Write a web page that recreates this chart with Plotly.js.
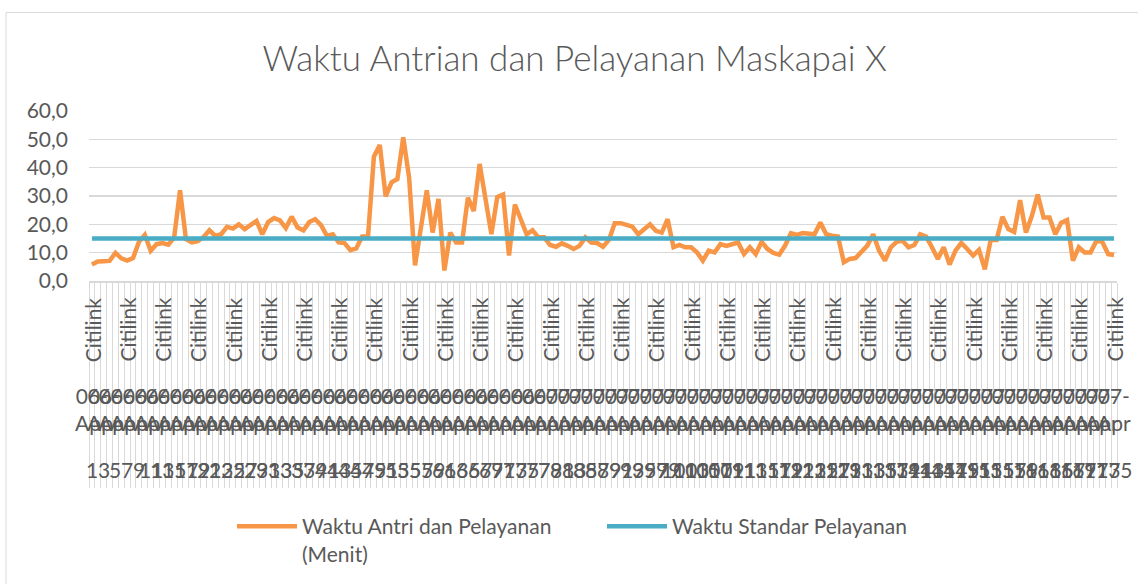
<!DOCTYPE html>
<html>
<head>
<meta charset="utf-8">
<script src="https://cdn.plot.ly/plotly-3.0.1.min.js"></script>
<style>html,body{margin:0;padding:0;background:#fff}#chart{width:1138px;height:584px}</style>
</head>
<body>
<div id="chart"></div>
<script>
// ---- data ----
const nomor = [1,2,3,4,5,6,7,8,9,10,11,12,13,14,15,16,17,18,19,20,21,22,23,24,25,26,27,28,29,30,31,32,33,34,35,36,37,38,39,40,41,42,43,44,45,46,47,48,49,50,51,52,53,54,55,56,57,58,59,60,61,62,63,64,65,66,67,68,69,70,71,72,73,74,75,76,77,78,79,80,81,82,83,84,85,86,87,88,89,90,91,92,93,94,95,96,97,98,99,100,101,102,103,104,105,106,107,108,109,110,111,112,113,114,115,116,117,118,119,120,121,122,123,124,125,126,127,128,129,130,131,132,133,134,135,136,137,138,139,140,141,142,143,144,145,146,147,148,149,150,151,152,153,154,155,156,157,158,159,160,161,162,163,164,165,166,167,168,169,170,171,172,173,174,175];

const tanggal = [
'06-Apr','06-Apr','06-Apr','06-Apr','06-Apr','06-Apr','06-Apr','06-Apr','06-Apr','06-Apr',
'06-Apr','06-Apr','06-Apr','06-Apr','06-Apr','06-Apr','06-Apr','06-Apr','06-Apr','06-Apr',
'06-Apr','06-Apr','06-Apr','06-Apr','06-Apr','06-Apr','06-Apr','06-Apr','06-Apr','06-Apr',
'06-Apr','06-Apr','06-Apr','06-Apr','06-Apr','06-Apr','06-Apr','06-Apr','06-Apr','06-Apr',
'06-Apr','06-Apr','06-Apr','06-Apr','06-Apr','06-Apr','06-Apr','06-Apr','06-Apr','06-Apr',
'06-Apr','06-Apr','06-Apr','06-Apr','06-Apr','06-Apr','06-Apr','06-Apr','06-Apr','06-Apr',
'06-Apr','06-Apr','06-Apr','06-Apr','06-Apr','06-Apr','06-Apr','06-Apr','06-Apr','06-Apr',
'06-Apr','06-Apr','06-Apr','06-Apr','06-Apr','06-Apr','06-Apr','06-Apr',
'07-Apr','07-Apr','07-Apr','07-Apr','07-Apr','07-Apr','07-Apr','07-Apr','07-Apr','07-Apr',
'07-Apr','07-Apr','07-Apr','07-Apr','07-Apr','07-Apr','07-Apr','07-Apr','07-Apr','07-Apr',
'07-Apr','07-Apr','07-Apr','07-Apr','07-Apr','07-Apr','07-Apr','07-Apr','07-Apr','07-Apr',
'07-Apr','07-Apr','07-Apr','07-Apr','07-Apr','07-Apr','07-Apr','07-Apr','07-Apr','07-Apr',
'07-Apr','07-Apr','07-Apr','07-Apr','07-Apr','07-Apr','07-Apr','07-Apr','07-Apr','07-Apr',
'07-Apr','07-Apr','07-Apr','07-Apr','07-Apr','07-Apr','07-Apr','07-Apr','07-Apr','07-Apr',
'07-Apr','07-Apr','07-Apr','07-Apr','07-Apr','07-Apr','07-Apr','07-Apr','07-Apr','07-Apr',
'07-Apr','07-Apr','07-Apr','07-Apr','07-Apr','07-Apr','07-Apr','07-Apr','07-Apr','07-Apr',
'07-Apr','07-Apr','07-Apr','07-Apr','07-Apr','07-Apr','07-Apr','07-Apr','07-Apr','07-Apr',
'07-Apr','07-Apr','07-Apr','07-Apr','07-Apr','07-Apr','07-Apr'];

const maskapai = [
'Citilink','Citilink','Citilink','Citilink','Citilink','Citilink','Citilink','Citilink','Citilink','Citilink',
'Citilink','Citilink','Citilink','Citilink','Citilink','Citilink','Citilink','Citilink','Citilink','Citilink',
'Citilink','Citilink','Citilink','Citilink','Citilink','Citilink','Citilink','Citilink','Citilink','Citilink',
'Citilink','Citilink','Citilink','Citilink','Citilink','Citilink','Citilink','Citilink','Citilink','Citilink',
'Citilink','Citilink','Citilink','Citilink','Citilink','Citilink','Citilink','Citilink','Citilink','Citilink',
'Citilink','Citilink','Citilink','Citilink','Citilink','Citilink','Citilink','Citilink','Citilink','Citilink',
'Citilink','Citilink','Citilink','Citilink','Citilink','Citilink','Citilink','Citilink','Citilink','Citilink',
'Citilink','Citilink','Citilink','Citilink','Citilink','Citilink','Citilink','Citilink','Citilink','Citilink',
'Citilink','Citilink','Citilink','Citilink','Citilink','Citilink','Citilink','Citilink','Citilink','Citilink',
'Citilink','Citilink','Citilink','Citilink','Citilink','Citilink','Citilink','Citilink','Citilink','Citilink',
'Citilink','Citilink','Citilink','Citilink','Citilink','Citilink','Citilink','Citilink','Citilink','Citilink',
'Citilink','Citilink','Citilink','Citilink','Citilink','Citilink','Citilink','Citilink','Citilink','Citilink',
'Citilink','Citilink','Citilink','Citilink','Citilink','Citilink','Citilink','Citilink','Citilink','Citilink',
'Citilink','Citilink','Citilink','Citilink','Citilink','Citilink','Citilink','Citilink','Citilink','Citilink',
'Citilink','Citilink','Citilink','Citilink','Citilink','Citilink','Citilink','Citilink','Citilink','Citilink',
'Citilink','Citilink','Citilink','Citilink','Citilink','Citilink','Citilink','Citilink','Citilink','Citilink',
'Citilink','Citilink','Citilink','Citilink','Citilink','Citilink','Citilink','Citilink','Citilink','Citilink',
'Citilink','Citilink','Citilink','Citilink','Citilink'];

const waktuAntri = [
5.8,6.9,7.0,7.1,9.9,8.0,7.2,8.1,13.8,16.3,
10.7,13.0,13.4,12.8,15.4,32.0,14.8,13.6,14.1,15.5,
17.9,15.9,16.5,19.1,18.5,20.0,18.3,19.9,21.2,16.5,
20.8,22.2,21.4,18.7,22.7,18.9,17.9,20.8,21.8,19.7,
15.9,16.5,13.6,13.4,10.9,11.5,15.7,15.7,43.9,48.0,
29.9,34.8,36.0,50.7,36.4,5.5,17.7,32.0,17.1,29.0,
3.7,17.1,13.6,13.6,29.4,24.7,41.3,29.9,16.5,29.6,
30.5,9.0,27.0,21.8,16.5,17.9,15.4,15.4,12.7,12.1,
13.3,12.4,11.3,12.4,15.4,13.6,13.4,12.1,14.5,20.4,
20.4,19.8,19.2,16.5,18.3,20.0,17.7,17.1,21.8,11.9,
12.7,11.9,11.9,10.1,7.2,10.7,10.1,13.0,12.4,13.0,
13.6,9.5,11.9,9.5,13.8,11.3,9.9,9.3,12.5,16.9,
16.3,16.9,16.6,16.5,20.6,16.5,16.0,15.7,6.6,7.8,
8.1,10.1,12.5,16.5,10.7,7.2,11.9,13.8,14.2,11.9,
12.7,16.5,15.7,11.9,7.8,11.9,5.8,10.7,13.4,11.3,
9.0,11.0,4.1,14.5,14.5,22.7,18.3,17.3,28.5,17.1,
22.9,30.5,22.4,22.4,16.5,20.6,21.5,7.2,11.9,10.1,
10.1,14.2,13.8,9.5,9.2];

const waktuStandar = [
15,15,15,15,15,15,15,15,15,15,15,15,15,15,15,15,15,15,15,15,15,15,15,15,15,
15,15,15,15,15,15,15,15,15,15,15,15,15,15,15,15,15,15,15,15,15,15,15,15,15,
15,15,15,15,15,15,15,15,15,15,15,15,15,15,15,15,15,15,15,15,15,15,15,15,15,
15,15,15,15,15,15,15,15,15,15,15,15,15,15,15,15,15,15,15,15,15,15,15,15,15,
15,15,15,15,15,15,15,15,15,15,15,15,15,15,15,15,15,15,15,15,15,15,15,15,15,
15,15,15,15,15,15,15,15,15,15,15,15,15,15,15,15,15,15,15,15,15,15,15,15,15,
15,15,15,15,15,15,15,15,15,15,15,15,15,15,15,15,15,15,15,15,15,15,15,15,15];

const seriesNames = ['Waktu Antri dan Pelayanan<br>(Menit)', 'Waktu Standar Pelayanan'];
const chartTitle = 'Waktu Antrian dan Pelayanan Maskapai X';

// ---- layout helpers ----
const FONT = 'Lato, "Open Sans", sans-serif';
const GREY = '#595959';
const M = {l: 89, r: 21, t: 111, b: 302};
const plotH = 584 - M.t - M.b;
const plotBottom = 584 - M.b;
const py2paper = py => (plotBottom - py) / plotH;
const px2paper = px => (px - M.l) / (1138 - M.l - M.r);

// unique, non-numeric category keys built from the three label levels
const cats = nomor.map((n, i) => maskapai[i] + ' | ' + tanggal[i] + ' | #' + n);

const annotations = [];
maskapai.forEach((m, i) => {
  if (i % 6 !== 0) return;
  annotations.push({x: cats[i], xref: 'x', y: py2paper(296), yref: 'paper', text: m,
    textangle: -90, showarrow: false, xanchor: 'center', yanchor: 'top',
    font: {family: FONT, size: 21, color: GREY}});
});
tanggal.forEach((t, i) => {
  if (i % 2 !== 0) return;
  annotations.push({x: cats[i], xref: 'x', y: py2paper(411), yref: 'paper', text: t.replace('-', '-<br>'),
    showarrow: false, xanchor: 'center', yanchor: 'middle',
    font: {family: FONT, size: 21, color: GREY}});
});
nomor.forEach((n, i) => {
  if (i % 2 !== 0) return;
  annotations.push({x: cats[i], xref: 'x', y: py2paper(472), yref: 'paper', text: String(n),
    showarrow: false, xanchor: 'center', yanchor: 'middle',
    font: {family: FONT, size: 21, color: GREY}});
});

const traces = [
  {x: cats, y: waktuAntri, type: 'scatter', mode: 'lines', name: seriesNames[0],
   line: {color: '#F79646', width: 4.5, shape: 'linear'}, hoverinfo: 'skip'},
  {x: cats, y: waktuStandar, type: 'scatter', mode: 'lines', name: seriesNames[1],
   line: {color: '#4BACC6', width: 4.5}, hoverinfo: 'skip'}
];

const layout = {
  width: 1138, height: 584,
  margin: M,
  paper_bgcolor: '#ffffff', plot_bgcolor: '#ffffff',
  separators: ',.',
  font: {family: FONT, color: GREY},
  title: {text: chartTitle, x: 0.505, xref: 'container', xanchor: 'center',
          y: 1 - 59/584, yref: 'container', yanchor: 'middle',
          font: {family: FONT, size: 35, color: GREY, weight: 300}},
  xaxis: {type: 'category', range: [-0.5, nomor.length - 0.5], showticklabels: false,
          tickmode: 'linear', tick0: 0, dtick: 1, ticks: 'outside', tickson: 'boundaries',
          ticklen: 205, tickcolor: '#d9d9d9', tickwidth: 1,
          showgrid: false, zeroline: false, showline: true, linecolor: '#d9d9d9', linewidth: 1.5,
          fixedrange: true},
  yaxis: {range: [0, 60], tickmode: 'linear', tick0: 0, dtick: 10, tickformat: '.1f',
          showgrid: true, gridcolor: '#d9d9d9', gridwidth: 1.5, zeroline: false, showline: false,
          ticks: '', ticklabelstandoff: 20,
          tickfont: {family: FONT, size: 21, color: GREY}, fixedrange: true},
  showlegend: true,
  legend: {orientation: 'h', x: px2paper(232), xanchor: 'left', y: py2paper(506), yanchor: 'top',
           font: {family: FONT, size: 21, color: GREY}, valign: 'top',
           entrywidth: 295, entrywidthmode: 'pixels', itemwidth: 60,
           bgcolor: 'rgba(0,0,0,0)', traceorder: 'normal'},
  annotations: annotations,
  shapes: [{type: 'rect', xref: 'paper', yref: 'paper', layer: 'below',
            x0: px2paper(6), x1: px2paper(1300), y0: py2paper(700), y1: py2paper(12),
            line: {color: '#d9d9d9', width: 1}, fillcolor: 'rgba(0,0,0,0)'}]
};

Plotly.newPlot('chart', traces, layout, {staticPlot: true, displayModeBar: false});
</script>
</body>
</html>
